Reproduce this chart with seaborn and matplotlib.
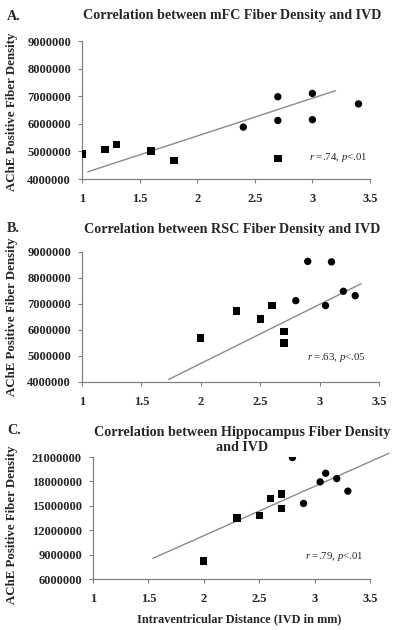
import numpy as np
import pandas as pd
import seaborn as sns
import matplotlib.pyplot as plt

# ---------------------------
# data
# ---------------------------
# panel A - mFC
a_sq_x = [1.0, 1.2, 1.3, 1.6, 1.8, 2.7]
a_sq_y = [4900000, 5070000, 5260000, 5020000, 4660000, 4740000]
a_ci_x = [2.4, 2.7, 2.7, 3.0, 3.0, 3.4]
a_ci_y = [5880000, 6980000, 6120000, 7100000, 6150000, 6720000]
a_trend_x = [1.05, 3.2]
a_trend_y = [4260000, 7200000]

# panel B - RSC
b_sq_x = [2.0, 2.3, 2.5, 2.6, 2.7, 2.7]
b_sq_y = [5690000, 6730000, 6420000, 6950000, 5950000, 5500000]
b_ci_x = [2.8, 2.9, 3.05, 3.1, 3.2, 3.3]
b_ci_y = [7130000, 8640000, 6940000, 8620000, 7490000, 7320000]
b_trend_x = [1.73, 3.35]
b_trend_y = [4100000, 7780000]

# panel C - Hippocampus
c_sq_x = [2.0, 2.3, 2.5, 2.6, 2.7, 2.7]
c_sq_y = [8200000, 13480000, 13770000, 15900000, 16430000, 14670000]
c_ci_x = [2.8, 2.9, 3.05, 3.1, 3.2, 3.3]
c_ci_y = [20930000, 15290000, 17940000, 19000000, 18350000, 16800000]
c_trend_x = [1.54, 3.67]
c_trend_y = [8540000, 21450000]

x_ticks = [1, 1.5, 2, 2.5, 3, 3.5]
x_tick_labels = ['1', '1.5', '2', '2.5', '3', '3.5']
ab_y_ticks = [4000000, 5000000, 6000000, 7000000, 8000000, 9000000]
c_y_ticks = [6000000, 9000000, 12000000, 15000000, 18000000, 21000000]

titles = ['Correlation between mFC Fiber Density and IVD',
          'Correlation between RSC Fiber Density and IVD',
          'Correlation between Hippocampus Fiber Density\nand IVD']
letters = ['A.', 'B.', 'C.']
stats = [r'$r$ =.74, $p$<.01', r'$r$ =.63, $p$<.05', r'$r$ =.79, $p$<.01']
ylab = 'AChE Positive Fiber Density'
xlab = 'Intraventricular Distance (IVD in mm)'

sns.set_style('ticks')
plt.rcParams['font.family'] = ['Liberation Serif', 'DejaVu Serif']
plt.rcParams['mathtext.fontset'] = 'custom'
plt.rcParams['mathtext.it'] = 'Liberation Serif:italic'
plt.rcParams['mathtext.rm'] = 'Liberation Serif'

W, H = 400, 630
fig = plt.figure(figsize=(4, 6.3), dpi=100)


def px_axes(l, t, r, b):
    return fig.add_axes([l / W, 1 - b / H, (r - l) / W, (b - t) / H])


def panel(ax, sqx, sqy, cix, ciy, tx, ty, yticks, stat, stat_xy):
    df = pd.DataFrame({
        'x': sqx + cix,
        'y': sqy + ciy,
        'grp': ['sq'] * len(sqx) + ['ci'] * len(cix),
    })
    trend = pd.DataFrame({'x': tx, 'y': ty})
    sns.lineplot(data=trend, x='x', y='y', ax=ax, color='#8a8a8a', lw=1.0)
    ax.lines[-1].set_clip_on(False)
    sns.scatterplot(data=df, x='x', y='y', style='grp',
                    markers={'sq': 's', 'ci': 'o'}, color='black',
                    s=28, linewidth=0, ax=ax, legend=False, zorder=3)
    ax.set_xlim(1, 3.5)
    ax.set_ylim(yticks[0], yticks[-1])
    ax.set_xticks(x_ticks)
    ax.set_xticklabels(x_tick_labels)
    ax.set_yticks(yticks)
    ax.set_yticklabels([str(v) for v in yticks])
    ax.set_xlabel('')
    ax.set_ylabel('')
    for lab in ax.get_xticklabels() + ax.get_yticklabels():
        lab.set_fontweight('bold')
        lab.set_fontsize(9)
    ax.tick_params(axis='both', length=3, width=0.8, color='#808080')
    ax.tick_params(axis='x', pad=7)
    ax.tick_params(axis='y', pad=5)
    sns.despine(ax=ax)
    for s in ['left', 'bottom']:
        ax.spines[s].set_color('#808080')
        ax.spines[s].set_linewidth(0.9)
    ax.text(stat_xy[0], stat_xy[1], stat, fontsize=7.8, va='center')


axA = px_axes(82, 41, 370, 179)
panel(axA, a_sq_x, a_sq_y, a_ci_x, a_ci_y, a_trend_x, a_trend_y,
      ab_y_ticks, stats[0], (2.97, 4790000))

axB = px_axes(82, 252, 379, 382)
panel(axB, b_sq_x, b_sq_y, b_ci_x, b_ci_y, b_trend_x, b_trend_y,
      ab_y_ticks, stats[1], (2.89, 4960000))

axC = px_axes(93, 457, 370, 579)
panel(axC, c_sq_x, c_sq_y, c_ci_x, c_ci_y, c_trend_x, c_trend_y,
      c_y_ticks, stats[2], (2.91, 8740000))

# titles, panel letters and y labels placed in pixel coords
title_pos = [(232, 15), (232, 229), (242, 440)]
letter_pos = [(7, 16), (7, 229), (7, 431)]
ylab_pos = [(12, 112), (12, 317), (12, 525)]
for i in range(3):
    fig.text(title_pos[i][0] / W, 1 - title_pos[i][1] / H, titles[i],
             ha='center', va='center', fontsize=10.2, fontweight='bold',
             linespacing=1.2)
    fig.text(letter_pos[i][0] / W, 1 - letter_pos[i][1] / H, letters[i],
             ha='left', va='center', fontsize=10.2, fontweight='bold')
    fig.text(ylab_pos[i][0] / W, 1 - ylab_pos[i][1] / H, ylab,
             ha='center', va='center', rotation=90,
             fontsize=9.3, fontweight='bold')

fig.text(239 / W, 1 - 619 / H, xlab, ha='center', va='center',
         fontsize=8.8, fontweight='bold')

fig.savefig('out.png', dpi=100)
